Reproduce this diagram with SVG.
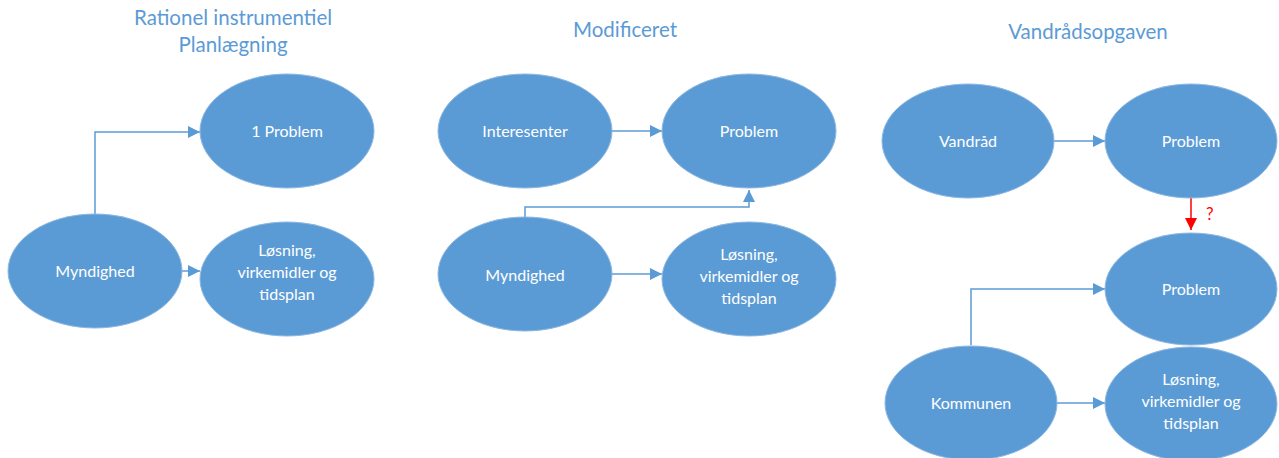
<svg xmlns="http://www.w3.org/2000/svg" width="1279" height="458" viewBox="0 0 1279 458">
  <style>
    .node ellipse { fill: #5B9BD5; stroke: #8DB8E2; stroke-width: 1; }
    .node text { fill: #FFFFFF; font-family: Lato, "Open Sans", sans-serif; font-size: 16px; text-anchor: middle; }
    .title { fill: #5B9BD5; font-family: Lato, "Open Sans", sans-serif; font-size: 20.5px; text-anchor: middle; }
    .link { fill: none; stroke: #5B9BD5; stroke-width: 1.5; marker-end: url(#arrow); }
    .link-red { fill: none; stroke: #FF0000; stroke-width: 1.5; marker-end: url(#arrow-red); }
  </style>
  <defs>
    <marker id="arrow" viewBox="0 0 10 10" refX="10" refY="5" markerWidth="8" markerHeight="8" markerUnits="strokeWidth" orient="auto">
      <path d="M0,0 L10,5 L0,10 Z" fill="#5B9BD5"/>
    </marker>
    <marker id="arrow-red" viewBox="0 0 10 10" refX="10" refY="5" markerWidth="8" markerHeight="8" markerUnits="strokeWidth" orient="auto">
      <path d="M0,0 L10,5 L0,10 Z" fill="#FF0000"/>
    </marker>
  </defs>

  <!-- column titles -->
  <text class="title" x="233" y="25">Rationel instrumentiel</text>
  <text class="title" x="233" y="52">Planlægning</text>
  <text class="title" x="625" y="37">Modificeret</text>
  <text class="title" x="1088" y="39">Vandrådsopgaven</text>

  <!-- connectors -->
  <g id="connectors">
    <path class="link" d="M95,215 V132 H200"/>
    <path class="link" d="M182,271 H200"/>
    <path class="link" d="M612,131 H662"/>
    <path class="link" d="M525,217 V207 H749 V190"/>
    <path class="link" d="M612,274 H662"/>
    <path class="link" d="M1054,141 H1105"/>
    <path class="link-red" d="M1191,198 V230"/>
    <path class="link" d="M971,345 V289 H1105"/>
    <path class="link" d="M1057,403 H1105"/>
  </g>
  <text x="1206" y="220" fill="#FF0000" font-family="Lato, 'Open Sans', sans-serif" font-size="17">?</text>

  <!-- column 1 -->
  <g id="problem1" class="node">
    <ellipse cx="287" cy="131" rx="87" ry="57"/>
    <text x="287" y="137">1 Problem</text>
  </g>
  <g id="myndighed1" class="node">
    <ellipse cx="95" cy="271" rx="87" ry="57"/>
    <text x="95" y="277">Myndighed</text>
  </g>
  <g id="loesning1" class="node">
    <ellipse cx="287" cy="279" rx="87" ry="57"/>
    <text x="287" y="256">Løsning,</text>
    <text x="287" y="278">virkemidler og</text>
    <text x="287" y="300">tidsplan</text>
  </g>

  <!-- column 2 -->
  <g id="interesenter" class="node">
    <ellipse cx="525" cy="131" rx="87" ry="57"/>
    <text x="525" y="137">Interesenter</text>
  </g>
  <g id="problem2" class="node">
    <ellipse cx="749" cy="131" rx="87" ry="57"/>
    <text x="749" y="137">Problem</text>
  </g>
  <g id="myndighed2" class="node">
    <ellipse cx="525" cy="274" rx="87" ry="57"/>
    <text x="525" y="281">Myndighed</text>
  </g>
  <g id="loesning2" class="node">
    <ellipse cx="749" cy="279" rx="87" ry="57"/>
    <text x="749" y="260">Løsning,</text>
    <text x="749" y="282">virkemidler og</text>
    <text x="749" y="304">tidsplan</text>
  </g>

  <!-- column 3 -->
  <g id="vandraad" class="node">
    <ellipse cx="968" cy="141" rx="86" ry="57"/>
    <text x="968" y="147">Vandråd</text>
  </g>
  <g id="problem3" class="node">
    <ellipse cx="1191" cy="141" rx="86" ry="57"/>
    <text x="1191" y="147">Problem</text>
  </g>
  <g id="problem4" class="node">
    <ellipse cx="1191" cy="289" rx="86" ry="56"/>
    <text x="1191" y="295">Problem</text>
  </g>
  <g id="kommunen" class="node">
    <ellipse cx="971" cy="403" rx="86" ry="57"/>
    <text x="971" y="409">Kommunen</text>
  </g>
  <g id="loesning3" class="node">
    <ellipse cx="1191" cy="404" rx="86" ry="57"/>
    <text x="1191" y="385">Løsning,</text>
    <text x="1191" y="407">virkemidler og</text>
    <text x="1191" y="429">tidsplan</text>
  </g>
</svg>
